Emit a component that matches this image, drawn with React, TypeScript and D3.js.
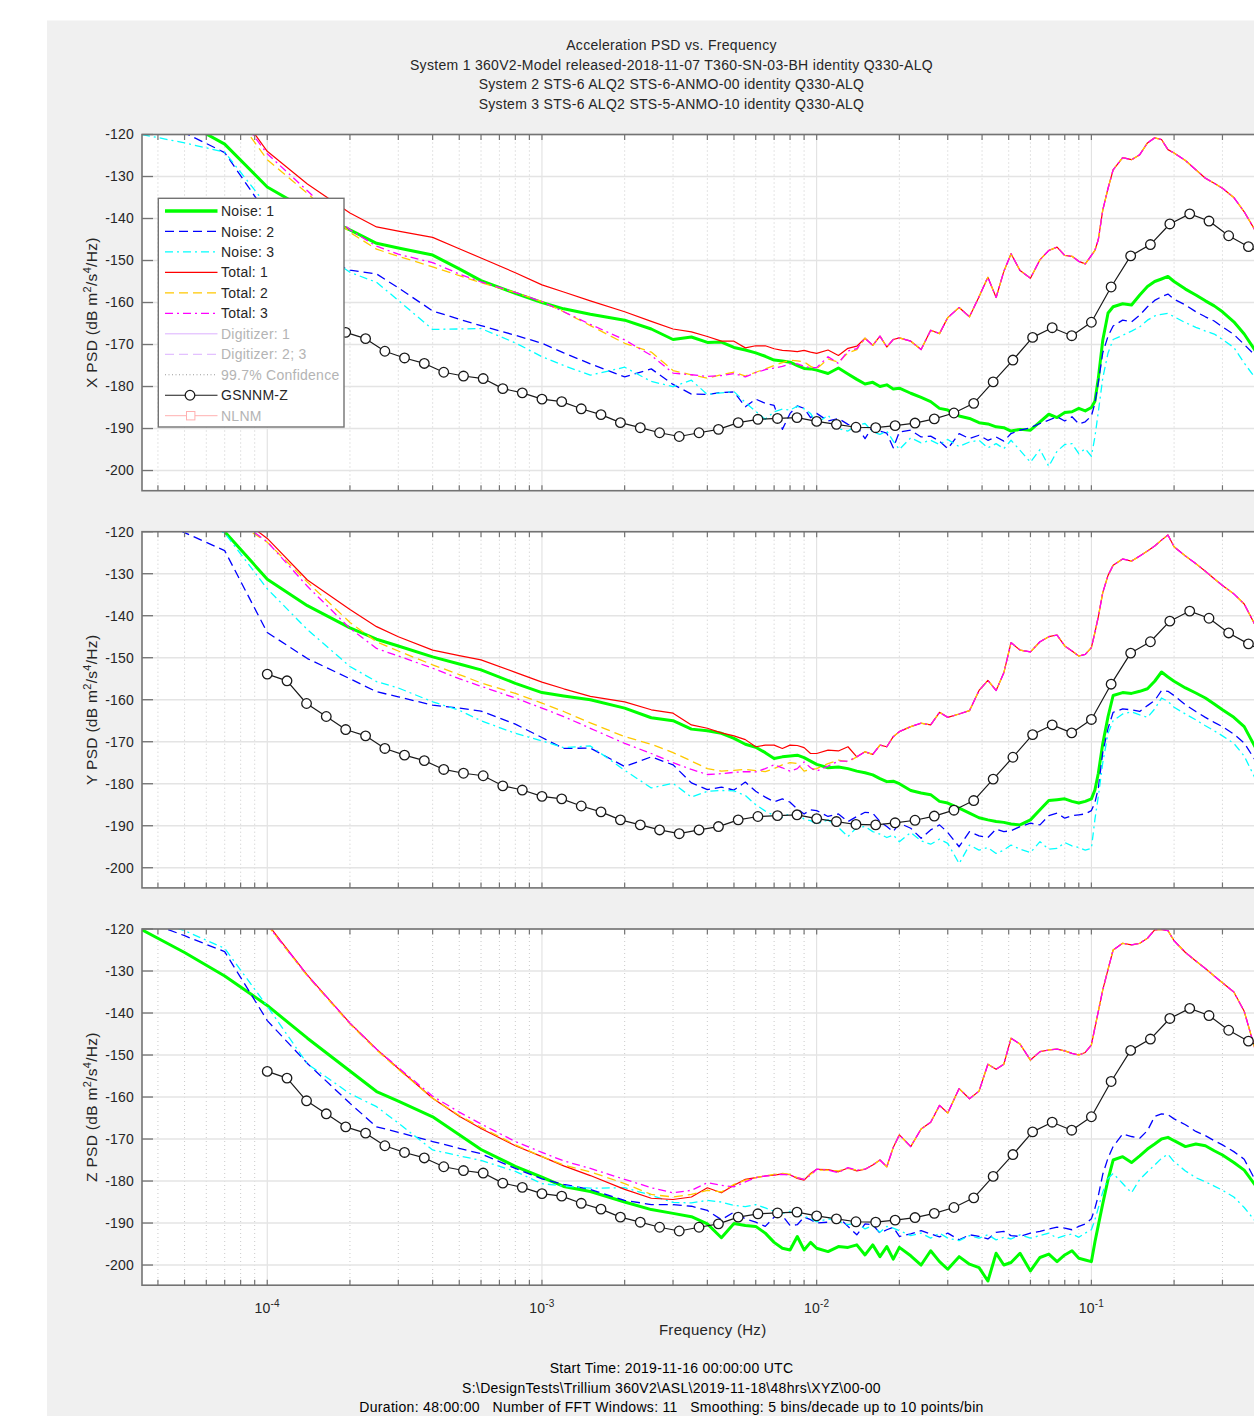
import React from "react";
import * as d3 from "d3";

const width = 1254;
const height = 1416;
const axLeft = 142;
const axRight = 1283.4;
const panelTop = [134.5, 531.7, 929];
const panelHeight = 356.2;
const font = "'Liberation Sans', Arial, Helvetica, sans-serif";
const ink = "#262626";
const axisGray = "#737373";

const green = "#00ff00";
const blue = "#0000ff";
const cyan = "#00ffff";
const red = "#ff0000";
const yellow = "#ffc800";
const magenta = "#ff00ff";

// frequency grid (Hz) shared by the noise / total curves
const freqLo = [3.5e-5, 5e-5, 7e-5, 1e-4, 1.4e-4, 2e-4, 2.5e-4, 3e-4, 4e-4, 5e-4, 6e-4, 8e-4,
  1e-3, 1.2e-3, 1.5e-3, 2e-3, 2.5e-3, 3e-3, 3.5e-3, 4e-3, 4.5e-3, 5e-3, 5.5e-3, 6e-3, 6.5e-3,
  7e-3, 7.5e-3, 8e-3, 8.5e-3, 9e-3, 9.5e-3];
const freqHi = [0.010, 0.011, 0.012, 0.013, 0.014, 0.015, 0.016, 0.017, 0.018, 0.019, 0.020,
  0.022, 0.024, 0.026, 0.028, 0.030, 0.033, 0.036, 0.039, 0.042, 0.045, 0.048, 0.051, 0.055,
  0.060, 0.065, 0.070, 0.075, 0.080, 0.085, 0.090, 0.095, 0.100, 0.103, 0.106, 0.110, 0.115,
  0.120, 0.13, 0.14, 0.15, 0.16, 0.17, 0.18, 0.19, 0.20, 0.22, 0.24, 0.26, 0.28, 0.30, 0.33,
  0.36, 0.40];
const freq = freqLo.concat(freqHi);

// ---- X component ----
const xNoise1 = [
  -112, -117, -122.3, -132.5, -138, -142.7, -145.9, -147, -148.7, -152,
  -154.8, -157.8, -160, -161.5, -162.8, -164.2, -166.3, -168.8, -168.2, -169.5,
  -169.4, -170.7, -171.3, -172, -172.8, -173.7, -173.9, -174.2, -175, -175.7,
  -175.8, -176.1, -176.9, -175.6, -177, -178.3, -179.4, -179, -180, -179.6,
  -180.6, -180.4, -181.6, -182.6, -183.6, -185.2, -185.6, -187, -187.6, -188.6,
  -188.9, -189.6, -189.8, -190.6, -190.2, -190.4, -188.4, -186.6, -187.4, -186.2,
  -186, -185.2, -185.8, -185, -183.5, -178, -169, -162.5, -161, -160.3,
  -160.6, -158.2, -156.2, -155, -154.4, -153.8, -155, -156.8, -158.2, -159.6,
  -160.8, -162.2, -164.6, -167.5, -172];
const xNoise2 = [
  -116, -119.6, -124.3, -139, -148, -152.3, -153.2, -156.5, -162, -164,
  -165.5, -167.8, -169.7, -172, -174.6, -177.7, -175.8, -179.5, -181.8, -181.9,
  -181.4, -181.3, -184.8, -183, -184, -184.5, -190.2, -186.4, -184.6, -185.2,
  -187.4, -186.4, -188.2, -187.6, -189, -189.4, -192.4, -189.4, -190.6, -191.1,
  -194.6, -190.8, -190.4, -192, -191.8, -193, -194.8, -191.2, -192.4, -191.6,
  -192.8, -192, -193, -191.2, -190.4, -189.8, -188.8, -188, -187.2, -188.2,
  -187.2, -188.9, -188.4, -187, -184, -179, -172, -168, -165.6, -164.2,
  -164.6, -163, -161, -159.5, -158.6, -158, -159.2, -160.6, -162.2, -163.4,
  -164.4, -165.8, -167.6, -170, -173];
const xNoise3 = [
  -120, -122, -124.2, -137, -146, -152.8, -155.2, -159.5, -166.4, -166.3,
  -166.2, -169.6, -172.9, -175, -177.3, -175.4, -178.8, -180, -178.5, -181.9,
  -181.5, -181.2, -183.8, -185.9, -187.8, -186, -185.4, -185.6, -184.7, -185.3,
  -186.4, -188.8, -186.8, -190, -190.6, -189.2, -188.8, -190.8, -191.4, -190.6,
  -193, -195, -192.2, -193.4, -192.8, -193.8, -192.6, -194.3, -193.2, -192.8,
  -194.6, -193.6, -194.8, -192.8, -195.2, -198, -195, -199, -195.4, -193.8,
  -193.6, -196, -194.8, -196.6, -192, -186, -178, -172, -168.8, -167.8,
  -166.8, -165.8, -164.2, -163.2, -162.8, -162.6, -163.4, -164.8, -165.9, -166.8,
  -167.5, -168.8, -170.7, -174.4, -178.5];
const xTotal1 = [
  -92, -100, -110, -124, -131.8, -138.7, -142, -143, -144.5, -147.2,
  -149.4, -152.9, -155.8, -157.5, -159.6, -162.2, -164.5, -166.3, -167, -168.1,
  -169.2, -169.2, -170.8, -170.3, -170.3, -171, -171.4, -171.5, -171.7, -171.4,
  -171.8, -172.1, -171.3, -172.6, -170.9, -170.4];
const xTotal2 = [
  -95, -103, -112, -126, -134, -143.3, -147.3, -149, -151.5, -153.6,
  -155.3, -157.6, -159.8, -162.2, -165.5, -169.7, -171.8, -176.2, -177.2, -178,
  -177.2, -176.6, -177.5, -176.6, -175.8, -175, -174.3, -173.7, -173.9, -174.1,
  -175.2, -175.8, -173.4, -174.2, -172, -171.2];
const xTotal3 = [
  -94, -102, -111, -124.6, -133.4, -142.7, -146.6, -148.5, -150.5, -153.2,
  -155.1, -157.6, -159.8, -162.2, -165.2, -168.9, -172.6, -176.8, -177.2, -177.6,
  -177.4, -176.9, -177.7, -176.7, -176, -175.6, -175.2, -174.6, -174.6, -175.2,
  -175.5, -175.5, -172.9, -174.5, -171.5, -171];
// above 0.015 Hz the three totals lie on top of each other
const xTotalHi = [
  -168.5, -170.2, -168, -170.6, -168.8, -168.4, -169.2, -171.2, -166.6, -167.4,
  -163.6, -161.2, -163.4, -158.6, -154, -158.8, -152.6, -148.4, -152.4, -154.2,
  -149.8, -147.6, -146.8, -148.8, -149, -150.2, -150.8, -148.8, -147.6, -145,
  -138, -132.8, -128.4, -125.5, -126, -124.8, -122, -120.8, -121.2, -123.6,
  -124.4, -126.2, -128.4, -130.4, -131.6, -132.8, -135, -138.4, -143.5];

// ---- Y component ----
const yNoise1 = [
  -110, -115, -120, -131.3, -137.6, -142.9, -145.6, -147.2, -149.8, -151.5,
  -152.9, -156.1, -158.3, -159.1, -160, -162, -164.3, -165, -167, -167.4,
  -168, -169.2, -170.6, -171.3, -172.6, -174, -173.6, -173.4, -173.2, -173.8,
  -174.6, -175.4, -176.2, -176, -176.4, -177, -177.4, -177.9, -178.8, -179.5,
  -179.4, -180, -181.6, -182.2, -182.6, -184.2, -184.6, -185.8, -187, -188.1,
  -188.6, -189, -189.2, -189.6, -189.8, -188.6, -186.2, -184, -183.8, -183.6,
  -184.2, -184.6, -184.2, -183.6, -181.5, -177.5, -170.5, -164, -159, -158.3,
  -158.5, -158, -157.4, -155.6, -153.4, -154.6, -155.6, -157.2, -158.4, -159.6,
  -161, -162.4, -164.2, -166.4, -172];
const yNoise2 = [
  -116, -120.2, -124.5, -144, -150.2, -155, -158.1, -159.3, -161.3, -162,
  -162.7, -165.8, -169, -171.6, -171.5, -175.9, -173.6, -175.5, -179.8, -181.4,
  -180.8, -181.5, -179.6, -181.8, -183.2, -184.3, -183.6, -184.4, -186, -187.2,
  -186.2, -186.4, -187.8, -187.2, -189, -187.8, -186.8, -187, -189, -190.2,
  -191.4, -189.4, -190.6, -193, -191, -189.8, -191.6, -195, -191.4, -192.4,
  -192.8, -190.8, -191.4, -191.2, -190.2, -189.4, -189.8, -187.6, -187, -188.2,
  -187.6, -187.4, -187.2, -186.4, -184.5, -181, -172.6, -166.8, -163, -162.2,
  -162.4, -162.8, -161.4, -160.2, -157.8, -158, -159, -161.2, -162.8, -164.2,
  -165.4, -166.4, -168.2, -170.3, -175];
const yNoise3 = [
  -114, -117.5, -120.3, -133.6, -143.3, -152.1, -155.7, -157.2, -160.5, -162.5,
  -165, -168, -169.8, -171.4, -171, -176.8, -181, -179.9, -183.2, -181.8,
  -181.6, -181.7, -182.8, -185, -186.5, -187.6, -188, -187.1, -187.2, -188.4,
  -188.8, -189.6, -188.6, -190.4, -192.6, -190.4, -190.2, -191.4, -192, -192.8,
  -192.2, -193.8, -191.6, -193.6, -194.4, -193.2, -194.2, -199, -194.6, -195.8,
  -195.2, -196.6, -195.8, -194.6, -195.6, -196.4, -193.8, -195.6, -195.4, -194,
  -194.8, -195.2, -195.8, -195.4, -188.5, -183, -175, -168, -165, -163.4,
  -162.9, -163.6, -164.2, -162.2, -159.6, -160.4, -161.8, -163.4, -164.8, -166.2,
  -167.4, -168.6, -170.4, -173.4, -179.5];
const yTotal1 = [
  -98, -106, -114, -121.6, -131.5, -138.5, -142.6, -145, -148.2, -149.5,
  -150.5, -153.5, -155.8, -157.4, -159.2, -160.5, -162.4, -163.2, -166, -166.8,
  -167.9, -168.6, -169.5, -171.2, -170.8, -170.8, -171.6, -170.8, -170.9, -171.4,
  -172.8, -172.8, -172, -172.2, -171.2, -173.6];
const yTotal2 = [
  -100, -108, -116, -122.5, -132, -141.6, -146.2, -148.4, -151.7, -154,
  -156, -158.5, -160.8, -162.8, -165.5, -168.8, -170.6, -172.6, -174.6, -176.4,
  -177, -176.8, -176.6, -176.9, -177.1, -176.4, -175.5, -175, -175.2, -177,
  -176.6, -176.4, -175.2, -174.4, -174.8, -173.6];
const yTotal3 = [
  -99, -107, -115, -122.4, -133, -143, -147.8, -149.6, -152.5, -155,
  -156.8, -159.6, -162, -164, -166.8, -170.4, -172.8, -175, -176.6, -177.8,
  -177.6, -177.3, -177.1, -177.2, -176.4, -175.5, -176.2, -177, -176.4, -174.8,
  -176.2, -177, -175.8, -174.6, -174.6, -173.6];
const yTotalHi = [
  -172.4, -173, -170.8, -171.2, -168.8, -167.6, -166.4, -165.6, -166, -163,
  -164.2, -163.4, -162.6, -157.8, -155.4, -157.8, -153.6, -146.4, -148.2, -148.6,
  -146.2, -145, -144.6, -147.2, -148.4, -149.6, -149.2, -147.6, -144, -140.2,
  -134.5, -130.4, -128, -126.5, -127, -125.8, -124.6, -123.4, -122, -120.8,
  -123.6, -125.8, -127.6, -129.4, -131.2, -132.8, -134.8, -137.2, -143];

// ---- Z component ----
const zNoise1 = [
  -120.2, -125.6, -131.2, -138.2, -146, -153.8, -158.7, -161, -164.7, -169,
  -172.5, -176.5, -179.1, -181.3, -182.5, -185, -186.8, -187.7, -188.5, -190.2,
  -193.5, -190.1, -190.6, -190.8, -192.4, -194.6, -196, -196.4, -193.2, -196.4,
  -194.6, -196, -196.8, -195.6, -195.8, -195.2, -197.6, -195.2, -198, -195.6,
  -198.6, -195.8, -197.8, -200, -196.6, -199.2, -201, -198, -199.8, -200.6,
  -203.8, -197.2, -200, -199.4, -197.2, -201.4, -198.2, -197.4, -199.2, -197.6,
  -196.6, -198.4, -198.8, -199.2, -194.5, -190.5, -185.4, -179.6, -175, -174.2,
  -175.6, -174, -172.4, -171.2, -170, -169.6, -170.4, -171.8, -171.2, -171.6,
  -172.8, -173.8, -175.6, -177.4, -181.5];
const zNoise2 = [
  -117.8, -121.6, -125.4, -141.8, -152, -161.5, -167.1, -168.4, -170.6, -172.2,
  -173.5, -177, -179.5, -180.8, -182, -184.6, -185.6, -185.6, -186, -187,
  -189.2, -187.4, -189, -189.8, -190.8, -188.6, -188.2, -190.6, -190.4, -188.6,
  -189.2, -190, -189.8, -188.6, -190.8, -192.8, -190.2, -190.4, -192.4, -191.6,
  -191, -193.2, -192.6, -191.8, -192.6, -193.3, -192.4, -194, -192.8, -193.2,
  -193.8, -192.2, -192, -193, -193.2, -192.4, -192, -191.4, -191, -191.2,
  -191.6, -190.8, -190.2, -189, -186.5, -183.5, -178.4, -174.5, -171.8, -168.8,
  -169.4, -169.8, -168, -164.6, -164, -164.2, -165.2, -166.6, -168.2, -169.2,
  -170.4, -171.4, -173, -174.8, -180.5];
const zNoise3 = [
  -117, -120.4, -124.6, -138.4, -152.1, -159.2, -162.3, -166.2, -172.6, -174,
  -175.1, -177.7, -180.6, -181.2, -181.7, -181.6, -183.4, -185.1, -185.2, -184.6,
  -185, -185.8, -186.1, -185.6, -186.4, -187.2, -187.7, -187.2, -187.8, -188.4,
  -189, -189.7, -189, -189.6, -190.4, -190, -191.4, -190.6, -192.2, -190.8,
  -191.2, -191.8, -193, -192.4, -193.6, -192.4, -193.6, -194.2, -193, -193.6,
  -192.8, -194, -193.4, -193.8, -192.8, -193.6, -193, -192.4, -193.6, -193,
  -192.6, -193.4, -192.4, -191.6, -189.2, -186.4, -182.6, -179.4, -178.2, -180.6,
  -182.8, -179.6, -177.8, -176.2, -174.6, -173.6, -175.4, -177.6, -179.2, -180.2,
  -181.2, -182.2, -183.8, -186.3, -190];
const zTotal1 = [
  -82, -96, -108, -118.7, -131, -142.4, -148.6, -153.2, -160.3, -164.6,
  -167.5, -171.6, -174.2, -176.4, -178.7, -182, -184.1, -184.4, -183.8, -181.6,
  -182.8, -181, -179.6, -179.2, -178.8, -178.6, -178.3, -178.5, -179.4, -179.8,
  -178.2, -177.2, -177.3, -177.8, -176.9, -177.6];
const zTotal2 = [
  -83, -97, -109, -119, -131.2, -142.6, -148.8, -153.4, -160.3, -164.4,
  -167.2, -171.4, -174.2, -176.2, -177.8, -180.6, -183.2, -183.8, -183.2, -182.2,
  -182.6, -180.8, -179.8, -179.2, -178.8, -178.4, -178.2, -178.4, -179.2, -179.6,
  -178.4, -177.4, -177.4, -177.6, -177, -177.4];
const zTotal3 = [
  -82, -96, -108, -119, -131, -142.4, -148.6, -153, -159.8, -163.6,
  -166.4, -170.6, -173.2, -175.2, -177, -179.6, -181.6, -182.8, -182.2, -180.4,
  -181, -181.4, -180.2, -179.2, -178.8, -178.6, -178.4, -178.6, -179.2, -179.6,
  -178.6, -177.2, -177.4, -178, -176.8, -177.4];
const zTotalHi = [
  -177.2, -176.2, -175, -176.6, -172, -169, -171.8, -167.6, -166, -162,
  -163.8, -158, -160.4, -158.6, -152.2, -153.4, -152.2, -146, -147.4, -151.2,
  -149.2, -148.8, -148.6, -149, -149.6, -150, -149.4, -147.6, -143.5, -139.6,
  -134.5, -129.6, -125, -123.4, -123.8, -123.4, -122.2, -120.2, -120.1, -120.4,
  -122.8, -125.6, -127.6, -129.4, -131.2, -132.8, -135, -139.6, -150];

// GSNNM-Z reference model (same in all three panels)
const gsnnmFreq = [
  1.00e-4, 1.18e-4, 1.39e-4, 1.64e-4, 1.93e-4, 2.28e-4, 2.68e-4, 3.16e-4, 3.73e-4, 4.39e-4, 5.18e-4, 6.11e-4, 7.20e-4, 8.48e-4,
  1.00e-3, 1.18e-3, 1.39e-3, 1.64e-3, 1.93e-3, 2.28e-3, 2.68e-3, 3.16e-3, 3.73e-3, 4.39e-3, 5.18e-3, 6.11e-3, 7.20e-3, 8.48e-3,
  1.00e-2, 1.18e-2, 1.39e-2, 1.64e-2, 1.93e-2, 2.28e-2, 2.68e-2, 3.16e-2, 3.73e-2, 4.39e-2, 5.18e-2, 6.11e-2, 7.20e-2, 8.48e-2,
  0.100, 0.118, 0.139, 0.164, 0.193, 0.228, 0.268, 0.316, 0.373, 0.439];
const gsnnmDb = [
  -153.9, -155.5, -160.9, -164.0, -167.1, -168.6, -171.6, -173.2, -174.5, -176.6, -177.5, -178.1, -180.5, -181.5,
  -183.0, -183.6, -185.3, -186.7, -188.6, -189.8, -191.0, -191.9, -191.0, -190.2, -188.6, -187.8, -187.6, -187.4,
  -188.3, -189.0, -189.7, -189.8, -189.3, -188.7, -187.7, -186.3, -184.0, -178.9, -173.7, -168.3, -166.0, -167.9,
  -164.7, -156.3, -148.9, -146.2, -141.3, -138.9, -140.6, -144.1, -146.7, -149.0];

const yTicks = [-120, -130, -140, -150, -160, -170, -180, -190, -200];
const xDecades = [1e-4, 1e-3, 1e-2, 1e-1];
const xDecadeExp = ["-4", "-3", "-2", "-1"];
const components = ["X", "Y", "Z"];

const titleLines = [
  "Acceleration PSD vs. Frequency",
  "System 1 360V2-Model released-2018-11-07 T360-SN-03-BH identity Q330-ALQ",
  "System 2 STS-6 ALQ2 STS-6-ANMO-00 identity Q330-ALQ",
  "System 3 STS-6 ALQ2 STS-5-ANMO-10 identity Q330-ALQ",
];
const footerLines = [
  "Start Time: 2019-11-16 00:00:00 UTC",
  "S:\\DesignTests\\Trillium 360V2\\ASL\\2019-11-18\\48hrs\\XYZ\\00-00",
  "Duration: 48:00:00   Number of FFT Windows: 11   Smoothing: 5 bins/decade up to 10 points/bin",
];
const legendLabels = ["Noise: 1", "Noise: 2", "Noise: 3", "Total: 1", "Total: 2", "Total: 3",
  "Digitizer: 1", "Digitizer: 2; 3", "99.7% Confidence", "GSNNM-Z", "NLNM"];

const panels = [
  { noise: [xNoise1, xNoise2, xNoise3], total: [xTotal1, xTotal2, xTotal3], totalHi: xTotalHi },
  { noise: [yNoise1, yNoise2, yNoise3], total: [yTotal1, yTotal2, yTotal3], totalHi: yTotalHi },
  { noise: [zNoise1, zNoise2, zNoise3], total: [zTotal1, zTotal2, zTotal3], totalHi: zTotalHi },
];

const dashed = "9 5";
const dashDot = "8 4 2 4";
const noiseStyle = [
  { color: green, w: 3, dash: undefined },
  { color: blue, w: 1.3, dash: dashed },
  { color: cyan, w: 1.3, dash: dashDot },
];
const totalStyle = [
  { color: red, w: 1.2, dash: undefined },
  { color: yellow, w: 1.3, dash: dashed },
  { color: magenta, w: 1.3, dash: dashDot },
];
const legendStyle = [
  { color: green, w: 3.5, dash: undefined, faded: false },
  { color: blue, w: 1.3, dash: dashed, faded: false },
  { color: cyan, w: 1.3, dash: dashDot, faded: false },
  { color: red, w: 1.3, dash: undefined, faded: false },
  { color: yellow, w: 1.3, dash: dashed, faded: false },
  { color: magenta, w: 1.3, dash: dashDot, faded: false },
  { color: "#dcb0ff", w: 1, dash: undefined, faded: true },
  { color: "#dcb0ff", w: 1, dash: dashed, faded: true },
  { color: "#9a9a9a", w: 1, dash: "1 2.5", faded: true },
  { color: "#1a1a1a", w: 1.2, dash: undefined, faded: false },
  { color: "#ffb0b0", w: 1, dash: undefined, faded: true },
];

const xScale = d3.scaleLog().domain([3.5e-5, 0.5]).range([axLeft, axRight]);
const allXTicks = xScale.ticks();
const isDecade = (t: number) => Math.abs(Math.log10(t) - Math.round(Math.log10(t))) < 1e-6;
const minorXTicks = allXTicks.filter(t => !isDecade(t));

function pathFor(values: number[], fs: number[], y: d3.ScaleLinear<number, number>) {
  return d3.line<number>()
    .x((_, i) => xScale(fs[i]))
    .y(d => y(d))(values) || "";
}

function Panel({ index }: { index: number }) {
  const top = panelTop[index];
  const bottom = top + panelHeight;
  const y = d3.scaleLinear().domain([-204.8, -120]).range([bottom, top]);
  const p = panels[index];
  const clipId = `clip-${index}`;
  const name = components[index];

  return (
    <g>
      <defs>
        <clipPath id={clipId}>
          <rect x={axLeft} y={top} width={axRight - axLeft} height={panelHeight} />
        </clipPath>
      </defs>
      <rect x={axLeft} y={top} width={axRight - axLeft} height={panelHeight} fill="#ffffff" />

      {/* grid */}
      {minorXTicks.map(t => (
        <line key={"mg" + t} x1={xScale(t)} x2={xScale(t)} y1={top} y2={bottom}
          stroke="#bdbdbd" strokeWidth={0.8} strokeDasharray="1 3" />
      ))}
      {xDecades.map(t => (
        <line key={"g" + t} x1={xScale(t)} x2={xScale(t)} y1={top} y2={bottom}
          stroke="#dedede" strokeWidth={1} />
      ))}
      {yTicks.map(v => (
        <line key={"yg" + v} x1={axLeft} x2={axRight} y1={y(v)} y2={y(v)}
          stroke="#e4e4e4" strokeWidth={1.6} />
      ))}

      <g clipPath={`url(#${clipId})`} fill="none" strokeLinejoin="round">
        {p.noise.map((vals, k) => (
          <path key={"n" + k} d={pathFor(vals, freq, y)} stroke={noiseStyle[k].color}
            strokeWidth={noiseStyle[k].w} strokeDasharray={noiseStyle[k].dash} />
        ))}
        {p.total.map((lo, k) => (
          <path key={"t" + k} d={pathFor(lo.concat(p.totalHi), freq, y)} stroke={totalStyle[k].color}
            strokeWidth={totalStyle[k].w} strokeDasharray={totalStyle[k].dash} />
        ))}
        <path d={pathFor(gsnnmDb, gsnnmFreq, y)} stroke="#1a1a1a" strokeWidth={1.2} />
        {gsnnmDb.map((v, i) => (
          <circle key={"c" + i} cx={xScale(gsnnmFreq[i])} cy={y(v)} r={4.8}
            fill="#ffffff" stroke="#1a1a1a" strokeWidth={1.3} />
        ))}
      </g>

      {/* box and ticks */}
      <rect x={axLeft} y={top} width={axRight - axLeft} height={panelHeight}
        fill="none" stroke={axisGray} strokeWidth={1.6} />
      {yTicks.map(v => (
        <line key={"yt" + v} x1={axLeft} x2={axLeft + 11} y1={y(v)} y2={y(v)}
          stroke={axisGray} strokeWidth={1.3} />
      ))}
      {allXTicks.map(t => (
        <g key={"xt" + t}>
          <line x1={xScale(t)} x2={xScale(t)} y1={top} y2={top + 5.5} stroke={axisGray} strokeWidth={1.2} />
          <line x1={xScale(t)} x2={xScale(t)} y1={bottom} y2={bottom - 5.5} stroke={axisGray} strokeWidth={1.2} />
        </g>
      ))}
      {yTicks.map(v => (
        <text key={"yl" + v} x={134} y={y(v)} dy="0.35em" textAnchor="end"
          fontSize={14} letterSpacing={0.2} fill={ink}>{v}</text>
      ))}
      <text transform={`translate(97, ${(top + bottom) / 2}) rotate(-90)`} textAnchor="middle"
        fontSize={15.5} letterSpacing={0.3} fill={ink}>
        {name} PSD (dB m<tspan dy={-6} fontSize={11}>2</tspan>
        <tspan dy={6}>/s</tspan><tspan dy={-6} fontSize={11}>4</tspan>
        <tspan dy={6}>/Hz)</tspan>
      </text>
      {index === 2 && xDecades.map((t, i) => (
        <text key={"xl" + t} x={xScale(t)} y={1313} textAnchor="middle" fontSize={14}
          letterSpacing={0.2} fill={ink}>
          10<tspan dy={-6} fontSize={10}>{xDecadeExp[i]}</tspan>
        </text>
      ))}
    </g>
  );
}

function Legend() {
  const left = 158.3;
  const topY = 198.3;
  const rowY = (i: number) => 211 + i * 20.47;
  return (
    <g>
      <rect x={left} y={topY} width={185.7} height={228.7} fill="#ffffff" stroke={axisGray} strokeWidth={1.4} />
      {legendLabels.map((lab, i) => {
        const s = legendStyle[i];
        const yy = rowY(i);
        return (
          <g key={lab}>
            <line x1={165} x2={217.5} y1={yy} y2={yy} stroke={s.color} strokeWidth={s.w}
              strokeDasharray={s.dash} />
            {i === 9 && <circle cx={190} cy={yy} r={4.8} fill="#ffffff" stroke={s.color} strokeWidth={1.3} />}
            {i === 10 && <rect x={186.5} y={yy - 4.2} width={8.4} height={8.4} fill="#ffffff" stroke={s.color} strokeWidth={1} />}
            <text x={221} y={yy} dy="0.36em" fontSize={14} letterSpacing={0.25}
              fill={s.faded ? "#b4b4b4" : ink}>{lab}</text>
          </g>
        );
      })}
    </g>
  );
}

export default function App() {
  return (
    <svg width={width} height={height} style={{ position: "absolute", left: 0, top: 0 }}
      fontFamily={font}>
      <rect x={0} y={0} width={width} height={height} fill="#ffffff" />
      <rect x={47} y={20.5} width={width - 47} height={height - 20.5} fill="#f0f0f0" />
      {titleLines.map((t, i) => (
        <text key={"t" + i} x={671.5} y={50 + i * 19.7} textAnchor="middle" fontSize={14}
          letterSpacing={0.3} fill={ink}>{t}</text>
      ))}
      <Panel index={0} />
      <Panel index={1} />
      <Panel index={2} />
      <Legend />
      <text x={712.7} y={1335} textAnchor="middle" fontSize={15} letterSpacing={0.3} fill={ink}>Frequency (Hz)</text>
      {footerLines.map((t, i) => (
        <text key={"f" + i} x={671.5} y={1373 + i * 19.5} textAnchor="middle" fontSize={14}
          letterSpacing={0.3} fill="#000000" style={{ whiteSpace: "pre" }}>{t}</text>
      ))}
    </svg>
  );
}
